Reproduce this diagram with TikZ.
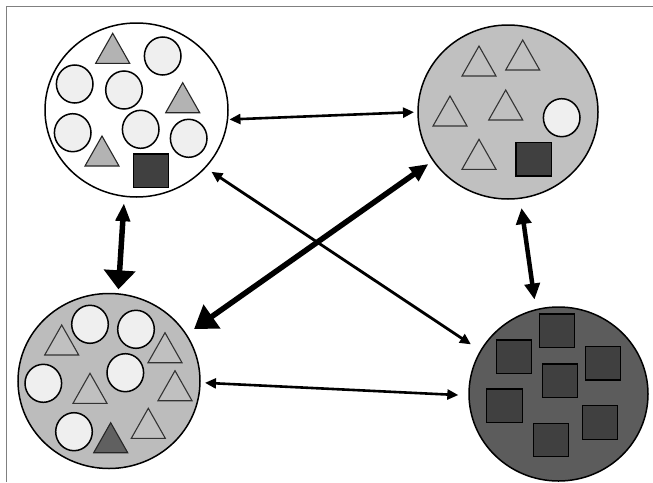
\documentclass[tikz,border=0pt]{standalone}
\usetikzlibrary{shapes.geometric,arrows.meta,calc}
\definecolor{lightc}{HTML}{EFEFEF}
\definecolor{trig}{HTML}{B3B3B3}
\definecolor{darksq}{HTML}{404040}
\definecolor{midg}{HTML}{C0C0C0}
\definecolor{darkbg}{HTML}{5C5C5C}
\definecolor{darktri}{HTML}{606060}
\definecolor{framec}{HTML}{808080}
\tikzset{
  group/.style={draw=black, line width=1.5pt, ellipse, inner sep=0pt, outer sep=0pt},
  lc/.style={draw=black, line width=1.5pt, fill=lightc},
  tri/.style={draw=black!85, line width=1.1pt, fill=trig, line join=miter},
  gtri/.style={draw=black!80, line width=1.1pt, fill=midg},
  dtri/.style={draw=black!85, line width=1.1pt, fill=darktri},
  sq/.style={draw=black, line width=1.4pt, fill=darksq},
  thinarr/.style={line width=2.6pt, {Triangle[length=11pt,width=10pt]}-{Triangle[length=11pt,width=10pt]}},
}
\newcommand\mytri[3][tri]{\draw[#1] (#2,#3) -- ++(-17,30) -- ++(34,0) -- cycle;}
\newcommand\mycirc[2]{\draw[lc] (#1,#2) ellipse [x radius=18.3, y radius=19];}
% connector from node border A (extended by ea) to node border B (extended by eb)
\newcommand\conn[5]{\draw[#1] ($(#2)!#3!(#4)$) -- ($(#4)!#5!(#2)$);}
\begin{document}
\begin{tikzpicture}[x=1pt,y=-1pt]
\useasboundingbox (0,0) rectangle (653,482);
\fill[white] (0,0) rectangle (653,482);
\draw[framec, line width=1.5pt] (6.5,482) -- (6.5,6.5) -- (653,6.5);

% group nodes
\node[group, fill=white, minimum width=183pt, minimum height=174pt] (tl) at (136.5,110) {};
\node[group, fill=midg, minimum width=180pt, minimum height=174pt] (tr) at (508,112) {};
\node[group, fill=midg!98!black, minimum width=182pt, minimum height=175pt] (bl) at (109,381) {};
\node[group, fill=darkbg, minimum width=179pt, minimum height=174pt] (br) at (558.5,394) {};

% top-left contents
\mytri{112.7}{33.3}
\mycirc{162.7}{56}
\mycirc{74.7}{84}
\mycirc{124}{90}
\mytri{182.7}{82.7}
\mycirc{72.7}{132.7}
\mycirc{140.7}{129.3}
\mycirc{188.7}{138.3}
\mytri{102}{136}
\draw[sq] (133.3,154) rectangle (168.3,187.3);

% top-right contents
\mytri[gtri]{479}{46}
\mytri[gtri]{522.7}{40}
\mytri[gtri]{450}{96}
\mytri[gtri]{505.7}{90}
\mytri[gtri]{479}{139.3}
\mycirc{561.7}{117.7}
\draw[sq] (516,142.7) rectangle (551.7,176);

% bottom-left contents
\mycirc{90}{324.3}
\mycirc{136}{329.3}
\mycirc{43.3}{383.3}
\mycirc{125.3}{372.7}
\mycirc{74}{431.7}
\mytri[gtri]{61.7}{325}
\mytri[gtri]{165}{332.7}
\mytri[gtri]{90}{373.3}
\mytri[gtri]{175}{370.7}
\mytri[gtri]{148.3}{408.3}
\mytri[dtri]{110.7}{422.7}

% bottom-right contents
\draw[sq] (539.3,314) rectangle (574.3,347.7);
\draw[sq] (496.7,340) rectangle (531.7,373.3);
\draw[sq] (585.7,346.7) rectangle (620.7,380);
\draw[sq] (542.7,364) rectangle (577.7,397.7);
\draw[sq] (486.7,389) rectangle (522.3,422.7);
\draw[sq] (582.3,405.7) rectangle (617.3,439.3);
\draw[sq] (533.3,423.3) rectangle (568.7,456.7);

% connectors
\conn{thinarr}{tl.-6.15}{2pt}{tr.180.2}{4pt}
\conn{line width=5.5pt, {Triangle[length=18pt,width=14pt]}-{Triangle[length=19pt,width=31pt]}}{tl.262.55}{7pt}{bl.84.2}{4.6pt}
\conn{line width=4.5pt, {Triangle[length=16pt,width=15pt]}-{Triangle[length=16pt,width=15pt]}}{tr.278.1}{10pt}{br.105.6}{10.4pt}
\conn{thinarr, line width=2.8pt}{tl.-40.2}{7.6pt}{br.151.5}{11.8pt}
\conn{line width=5.5pt, {Triangle[length=18pt,width=16pt]}-{Triangle[length=22pt,width=28pt]}}{tr.213.1}{6.1pt}{bl.31.46}{9.6pt}
\conn{thinarr}{bl.-1.2}{5pt}{br.181.1}{10.7pt}
\end{tikzpicture}
\end{document}
